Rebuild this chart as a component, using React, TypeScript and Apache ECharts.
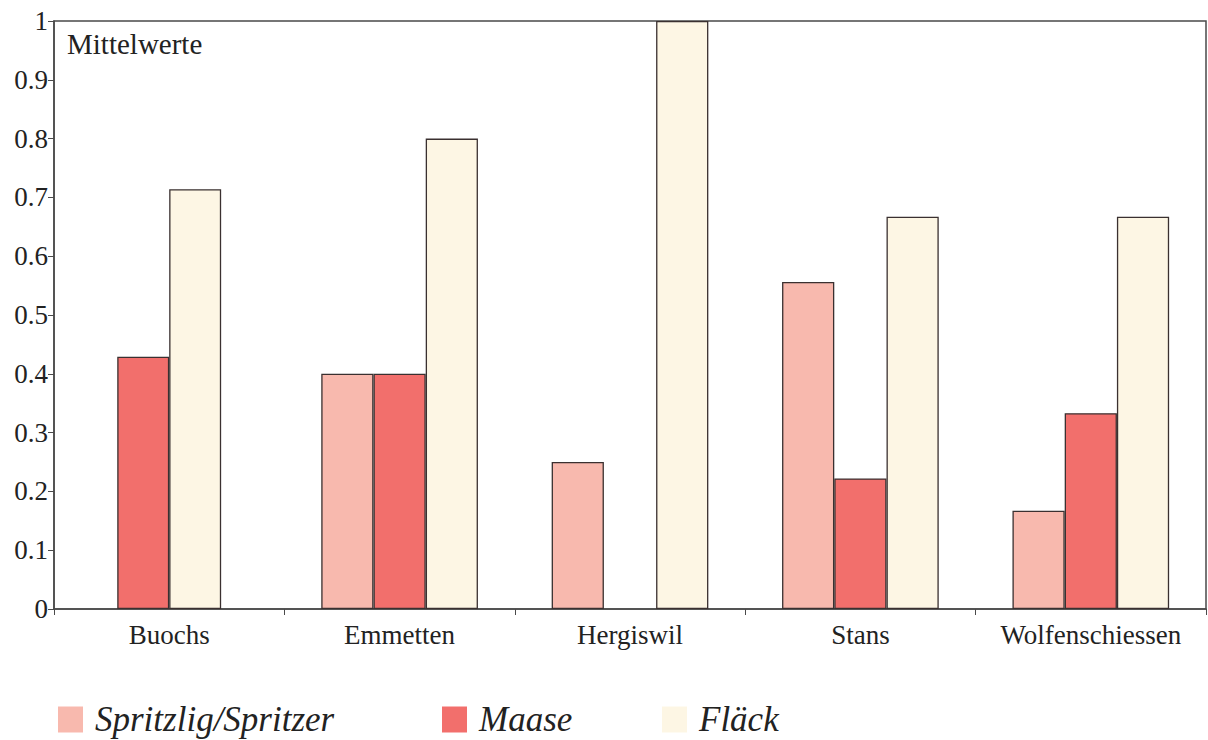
import React, { useEffect, useRef } from "react";
import * as echarts from "echarts";

const categories = ["Buochs", "Emmetten", "Hergiswil", "Stans", "Wolfenschiessen"];
const seriesNames = ["Spritzlig/Spritzer", "Maase", "Fläck"];
// null = no bar (Buochs has no Spritzlig value, Hergiswil no Maase value)
const spritzlig = [null, 0.4, 0.25, 0.556, 0.167];
const maase = [0.429, 0.4, null, 0.222, 0.333];
const flaeck = [0.714, 0.8, 1.0, 0.667, 0.667];
const colors = ["#f8b9ae", "#f26f6c", "#fdf6e4"];

const FONT = "'Liberation Serif', 'DejaVu Serif', serif";

export default function App() {
  const ref = useRef<HTMLDivElement>(null);
  useEffect(() => {
    if (!ref.current) return;
    const chart = echarts.init(ref.current, undefined, { renderer: "svg" });
    const values = [spritzlig, maase, flaeck];
    const legendLefts = [53, 437, 657];
    const barStyle = (i: number) => ({
      color: colors[i],
      borderColor: "#3a3030",
      borderWidth: 1.3,
    });
    // Buochs has only two bars, centred in its category: drawn on a hidden second axis
    const firstOnly = (arr: (number | null)[]) => arr.map((v, k) => (k === 0 ? v : null));
    const restOnly = (arr: (number | null)[]) => arr.map((v, k) => (k === 0 ? null : v));
    const mainSeries = seriesNames.map((n, i) => ({
      name: n,
      type: "bar",
      xAxisIndex: 0,
      data: restOnly(values[i]),
      barGap: "0%",
      barCategoryGap: "32%",
      itemStyle: barStyle(i),
    }));
    const buochsSeries = [1, 2].map((i) => ({
      name: seriesNames[i],
      type: "bar",
      xAxisIndex: 1,
      data: firstOnly(values[i]),
      barGap: "0%",
      barCategoryGap: "54.9%",
      itemStyle: barStyle(i),
    }));
    chart.setOption({
      animation: false,
      backgroundColor: "#ffffff",
      grid: {
        left: 54,
        top: 21,
        right: 2,
        bottom: 131,
        show: true,
        borderColor: "#4a4a4a",
        borderWidth: 1.5,
      },
      legend: seriesNames.map((n, i) => ({
        data: [n],
        left: legendLefts[i],
        top: 697,
        itemWidth: 25,
        itemHeight: 26,
        itemGap: 16,
        icon: "rect",
        itemStyle: { borderWidth: 0 },
        textStyle: {
          fontFamily: FONT,
          fontStyle: "italic",
          fontSize: 35,
          color: "#222",
          padding: [0, 0, 0, 7],
        },
      })),
      graphic: [
        {
          type: "text",
          left: 67,
          top: 29,
          style: { text: "Mittelwerte", fontFamily: FONT, fontSize: 29, fill: "#222" },
        },
      ],
      xAxis: [
        {
          type: "category",
          data: categories,
          axisLine: { lineStyle: { color: "#4a4a4a", width: 1.5 } },
          axisTick: { show: true, length: 6, lineStyle: { color: "#4a4a4a" } },
          axisLabel: {
            interval: 0,
            fontFamily: FONT,
            fontSize: 27,
            color: "#222",
            margin: 12,
          },
        },
        {
          type: "category",
          data: categories,
          show: false,
          position: "bottom",
        },
      ],
      yAxis: {
        type: "value",
        min: 0,
        max: 1,
        interval: 0.1,
        splitLine: { show: false },
        axisLine: { show: true, lineStyle: { color: "#4a4a4a", width: 1.5 } },
        axisTick: { show: true, length: 6, lineStyle: { color: "#4a4a4a" } },
        axisLabel: { fontFamily: FONT, fontSize: 27, color: "#222", margin: 6 },
      },
      series: [...mainSeries, ...buochsSeries],
    });
    return () => chart.dispose();
  }, []);
  return (
    <div
      ref={ref}
      style={{ position: "fixed", left: 0, top: 0, width: 1208, height: 740 }}
    />
  );
}
